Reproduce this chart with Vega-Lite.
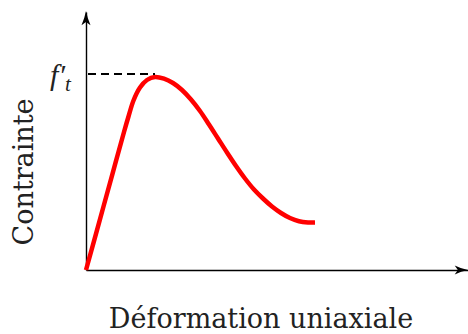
{
  "$schema": "https://vega.github.io/schema/vega-lite/v6.json",
  "width": 382,
  "height": 258,
  "autosize": "none",
  "padding": {"left": 86, "top": 12, "right": 0, "bottom": 64},
  "background": "white",
  "config": {"view": {"stroke": null}},
  "datasets": {
    "curve": [
      {"i": 0, "eps": 0, "sig": 0},
      {"i": 1, "eps": 13, "sig": 47.2},
      {"i": 2, "eps": 26, "sig": 94.4},
      {"i": 3, "eps": 38, "sig": 138},
      {"i": 4, "eps": 42.5, "sig": 153.5},
      {"i": 5, "eps": 47.5, "sig": 169.5},
      {"i": 6, "eps": 54, "sig": 182.5},
      {"i": 7, "eps": 61, "sig": 190},
      {"i": 8, "eps": 69, "sig": 193},
      {"i": 9, "eps": 78, "sig": 191.3},
      {"i": 10, "eps": 87, "sig": 187},
      {"i": 11, "eps": 96, "sig": 180},
      {"i": 12, "eps": 105, "sig": 170.5},
      {"i": 13, "eps": 114, "sig": 159},
      {"i": 14, "eps": 123, "sig": 145.5},
      {"i": 15, "eps": 132, "sig": 131.5},
      {"i": 16, "eps": 141, "sig": 117.5},
      {"i": 17, "eps": 150, "sig": 104},
      {"i": 18, "eps": 159, "sig": 91.5},
      {"i": 19, "eps": 168, "sig": 80.5},
      {"i": 20, "eps": 177, "sig": 71.5},
      {"i": 21, "eps": 186, "sig": 63.5},
      {"i": 22, "eps": 195, "sig": 57},
      {"i": 23, "eps": 204, "sig": 52},
      {"i": 24, "eps": 213, "sig": 48.8},
      {"i": 25, "eps": 222, "sig": 47.6},
      {"i": 26, "eps": 229, "sig": 47.5}
    ],
    "peakline": [
      {"eps": 2, "sig": 196, "eps2": 69}
    ],
    "arrows": [
      {"eps": 0, "sig": 259, "dir": "up"},
      {"eps": 382, "sig": 0, "dir": "right"}
    ],
    "labels": [
      {"eps": 175, "sig": -58, "txt": "Déformation uniaxiale"}
    ],
    "ylabels": [
      {"eps": -53, "sig": 98, "txt": "Contrainte"}
    ],
    "fmain": [
      {"eps": -21, "sig": 185, "txt": "f′"}
    ],
    "fsub": [
      {"eps": -21, "sig": 179, "txt": "t"}
    ]
  },
  "layer": [
    {
      "data": {"name": "curve"},
      "mark": {"type": "line", "color": "#ff0000", "strokeWidth": 4.5, "interpolate": "catmull-rom", "clip": false},
      "encoding": {
        "x": {"field": "eps", "type": "quantitative", "scale": {"domain": [0, 382], "nice": false, "zero": false},
              "axis": {"title": null, "labels": false, "ticks": false, "grid": false, "domainColor": "black", "domainWidth": 1.4}},
        "y": {"field": "sig", "type": "quantitative", "scale": {"domain": [0, 258], "nice": false, "zero": false},
              "axis": {"title": null, "labels": false, "ticks": false, "grid": false, "domainColor": "black", "domainWidth": 1.4}},
        "order": {"field": "i", "type": "quantitative"}
      }
    },
    {
      "data": {"name": "peakline"},
      "mark": {"type": "rule", "color": "black", "strokeWidth": 1.8, "strokeDash": [8, 5]},
      "encoding": {
        "x": {"field": "eps", "type": "quantitative"},
        "x2": {"field": "eps2"},
        "y": {"field": "sig", "type": "quantitative"}
      }
    },
    {
      "data": {"name": "arrows"},
      "transform": [{"filter": "datum.dir == 'up'"}],
      "mark": {"type": "point", "filled": true, "color": "black", "opacity": 1, "size": 225, "clip": false,
               "shape": "M0,0 Q0.2,1 0.6,1.9 L0,1.45 L-0.6,1.9 Q-0.2,1 0,0 Z"},
      "encoding": {
        "x": {"field": "eps", "type": "quantitative"},
        "y": {"field": "sig", "type": "quantitative"}
      }
    },
    {
      "data": {"name": "arrows"},
      "transform": [{"filter": "datum.dir == 'right'"}],
      "mark": {"type": "point", "filled": true, "color": "black", "opacity": 1, "size": 196, "clip": false,
               "shape": "M0,0 Q-1,-0.2 -1.9,-0.65 L-1.45,0 L-1.9,0.65 Q-1,0.2 0,0 Z"},
      "encoding": {
        "x": {"field": "eps", "type": "quantitative"},
        "y": {"field": "sig", "type": "quantitative"}
      }
    },
    {
      "data": {"name": "labels"},
      "mark": {"type": "text", "font": "DejaVu Serif", "fontSize": 27, "color": "#222222", "align": "center", "baseline": "alphabetic", "clip": false},
      "encoding": {
        "x": {"field": "eps", "type": "quantitative"},
        "y": {"field": "sig", "type": "quantitative"},
        "text": {"field": "txt"}
      }
    },
    {
      "data": {"name": "ylabels"},
      "mark": {"type": "text", "font": "DejaVu Serif", "fontSize": 27, "color": "#222222", "align": "center", "baseline": "alphabetic", "angle": 270, "clip": false},
      "encoding": {
        "x": {"field": "eps", "type": "quantitative"},
        "y": {"field": "sig", "type": "quantitative"},
        "text": {"field": "txt"}
      }
    },
    {
      "data": {"name": "fmain"},
      "mark": {"type": "text", "font": "Liberation Serif", "fontStyle": "italic", "fontSize": 30, "color": "#222222", "align": "right", "baseline": "alphabetic", "clip": false},
      "encoding": {
        "x": {"field": "eps", "type": "quantitative"},
        "y": {"field": "sig", "type": "quantitative"},
        "text": {"field": "txt"}
      }
    },
    {
      "data": {"name": "fsub"},
      "mark": {"type": "text", "font": "Liberation Serif", "fontStyle": "italic", "fontSize": 21, "color": "#222222", "align": "left", "baseline": "alphabetic", "clip": false},
      "encoding": {
        "x": {"field": "eps", "type": "quantitative"},
        "y": {"field": "sig", "type": "quantitative"},
        "text": {"field": "txt"}
      }
    }
  ]
}
